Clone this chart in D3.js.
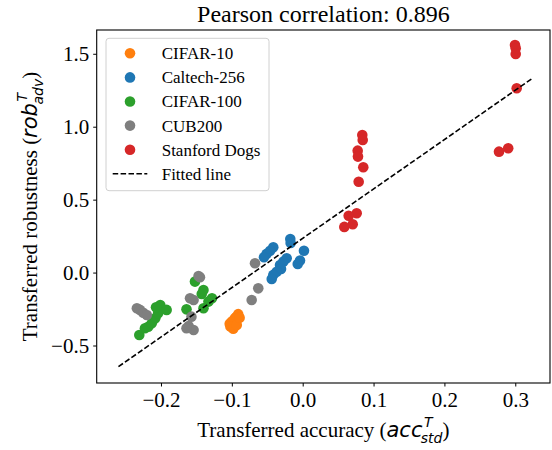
<!DOCTYPE html>
<html>
<head>
<meta charset="utf-8">
<script src="https://cdn.jsdelivr.net/npm/d3@7"></script>
<style>
  body { margin: 0; background: #fff; }
  text { font-family: "Liberation Serif", "DejaVu Serif", serif; }
</style>
</head>
<body>
<div id="chart"></div>
<script>
// data: [acc, rob] pairs per dataset
var cifar10 = [[-0.091,-0.285],[-0.094,-0.305],[-0.096,-0.315],[-0.1,-0.335],[-0.103,-0.35],
               [-0.102,-0.37],[-0.098,-0.385],[-0.093,-0.36],[-0.089,-0.31]];
var caltech256 = [[-0.0175,0.23],[-0.017,0.203],[-0.0415,0.173],[-0.046,0.15],[-0.051,0.128],
                  [-0.0546,0.105],[0.0018,0.15],[-0.0038,0.082],[-0.007,0.059],[-0.0226,0.098],
                  [-0.0274,0.075],[-0.032,0.052],[-0.0306,0.025],[-0.0367,0.006],[-0.0415,-0.016],
                  [-0.0437,-0.044]];
var cifar100 = [[-0.2306,-0.428],[-0.2226,-0.382],[-0.218,-0.371],[-0.213,-0.348],[-0.208,-0.313],
                [-0.204,-0.279],[-0.201,-0.222],[-0.207,-0.238],[-0.192,-0.256],[-0.164,-0.252],
                [-0.152,-0.062],[-0.14,-0.119],[-0.1425,-0.147],[-0.128,-0.176],[-0.133,-0.199],
                [-0.14,-0.245]];
var cub200 = [[-0.234,-0.245],[-0.2296,-0.256],[-0.225,-0.275],[-0.22,-0.291],
              [-0.147,-0.023],[-0.145,-0.032],[-0.159,-0.176],[-0.154,-0.188],
              [-0.157,-0.302],[-0.161,-0.366],[-0.154,-0.394],[-0.164,-0.382],
              [-0.0673,0.064],[-0.0627,-0.108],[-0.072,-0.188]];
var stanfordDogs = [[0.2996,1.56],[0.3006,1.538],[0.3006,1.499],[0.302,1.264],[0.277,0.829],
                    [0.29,0.852],[0.0841,0.943],[0.0847,0.909],[0.0776,0.836],[0.078,0.795],
                    [0.0855,0.722],[0.079,0.623],[0.0762,0.407],[0.0649,0.39],[0.0706,0.331],
                    [0.0587,0.313]];
var fittedLine = [[-0.26,-0.645],[0.3254,1.336]];

var seriesNames = ["CIFAR-10", "Caltech-256", "CIFAR-100", "CUB200", "Stanford Dogs"];
var seriesData = [cifar10, caltech256, cifar100, cub200, stanfordDogs];
var seriesColors = ["#ff7f0e", "#1f77b4", "#2ca02c", "#7f7f7f", "#d62728"];
var xTicks = [-0.2, -0.1, 0.0, 0.1, 0.2, 0.3];
var yTicks = [-0.5, 0.0, 0.5, 1.0, 1.5];
var pearson = 0.896;

var width = 552, height = 450;
var margin = {left: 96.7, right: 2, top: 30, bottom: 67};

var svg = d3.select("#chart").append("svg")
    .attr("width", width).attr("height", height);

var x = d3.scaleLinear().domain([-0.2907, 0.349]).range([margin.left, width - margin.right]);
var y = d3.scaleLinear().domain([-0.757, 1.663]).range([height - margin.bottom, margin.top]);

var fmt = d3.format(".1f");

// axes
var xAxis = svg.append("g")
    .attr("transform", "translate(0," + (height - margin.bottom) + ")")
    .call(d3.axisBottom(x).tickValues(xTicks).tickFormat(fmt).tickSize(3.5).tickPadding(4));
var yAxis = svg.append("g")
    .attr("transform", "translate(" + margin.left + ",0)")
    .call(d3.axisLeft(y).tickValues(yTicks).tickFormat(fmt).tickSize(3.5).tickPadding(4));

[xAxis, yAxis].forEach(function(a) {
    a.select(".domain").remove();
    a.selectAll("line").attr("stroke", "#000").attr("stroke-width", 1);
    a.selectAll("text").attr("font-family", "Liberation Serif").attr("font-size", 21).attr("fill", "#000");
});
xAxis.selectAll("text").attr("dy", "0.78em");

// points, in legend order
seriesData.forEach(function(pts, i) {
    svg.append("g").selectAll("circle").data(pts).enter()
        .append("circle")
        .attr("cx", function(d) { return x(d[0]); })
        .attr("cy", function(d) { return y(d[1]); })
        .attr("r", 5.3)
        .attr("fill", seriesColors[i]);
});

svg.append("line")
    .attr("x1", x(fittedLine[0][0])).attr("y1", y(fittedLine[0][1]))
    .attr("x2", x(fittedLine[1][0])).attr("y2", y(fittedLine[1][1]))
    .attr("stroke", "#000").attr("stroke-width", 1.6)
    .attr("stroke-dasharray", "5.5,2.4");

// frame
svg.append("rect")
    .attr("x", margin.left).attr("y", margin.top)
    .attr("width", width - margin.right - margin.left)
    .attr("height", height - margin.bottom - margin.top)
    .attr("fill", "none").attr("stroke", "#000").attr("stroke-width", 1.1);

// title
svg.append("text")
    .attr("x", (margin.left + width - margin.right) / 2).attr("y", 22)
    .attr("text-anchor", "middle").attr("font-size", 24)
    .text("Pearson correlation: " + pearson.toFixed(3));

// label with italic math part plus stacked super/subscript
function mathLabel(g, plain, base, sup, sub) {
    var t = g.append("text").attr("font-size", 21).attr("fill", "#000");
    t.append("tspan").text(plain + " (");
    t.append("tspan").attr("font-family", "DejaVu Sans").attr("font-style", "italic").text(base);
    var s = t.append("tspan").attr("font-family", "DejaVu Sans").attr("font-style", "italic")
        .attr("font-size", 14).attr("dx", 1.5).attr("dy", -10).text(sup);
    var w = s.node().getComputedTextLength();
    t.append("tspan").attr("font-family", "DejaVu Sans").attr("font-style", "italic")
        .attr("font-size", 14).attr("dx", -w - 1.5).attr("dy", 16).text(sub);
    t.append("tspan").attr("dy", -6).text(")");
    var len = t.node().getComputedTextLength();
    // the stacked sup is counted in the length; take it out
    t.attr("x", -(len - w) / 2);
    return t;
}

var xl = svg.append("g").attr("transform", "translate(" + ((margin.left + width - margin.right) / 2) + ",437)");
mathLabel(xl, "Transferred accuracy", "acc", "T", "std");

var yl = svg.append("g").attr("transform", "translate(37," + ((margin.top + height - margin.bottom) / 2) + ") rotate(-90)");
mathLabel(yl, "Transferred robustness", "rob", "T", "adv");

// legend
var lg = svg.append("g").attr("transform", "translate(106,38.3)");
lg.append("rect").attr("width", 163).attr("height", 152.4).attr("rx", 3)
    .attr("fill", "#fff").attr("fill-opacity", 0.8)
    .attr("stroke", "#d0d0d0").attr("stroke-width", 1);

var rowY = function(i) { return 15 + i * 24.1; };
seriesNames.forEach(function(name, i) {
    lg.append("circle").attr("cx", 24).attr("cy", rowY(i)).attr("r", 5.3).attr("fill", seriesColors[i]);
    lg.append("text").attr("x", 55.7).attr("y", rowY(i)).attr("dy", "0.35em")
        .attr("font-size", 17).text(name);
});
lg.append("line").attr("x1", 6.7).attr("x2", 41.3).attr("y1", rowY(5)).attr("y2", rowY(5))
    .attr("stroke", "#000").attr("stroke-width", 1.6).attr("stroke-dasharray", "5.5,2.4");
lg.append("text").attr("x", 55.7).attr("y", rowY(5)).attr("dy", "0.35em")
    .attr("font-size", 17).text("Fitted line");
</script>
</body>
</html>
